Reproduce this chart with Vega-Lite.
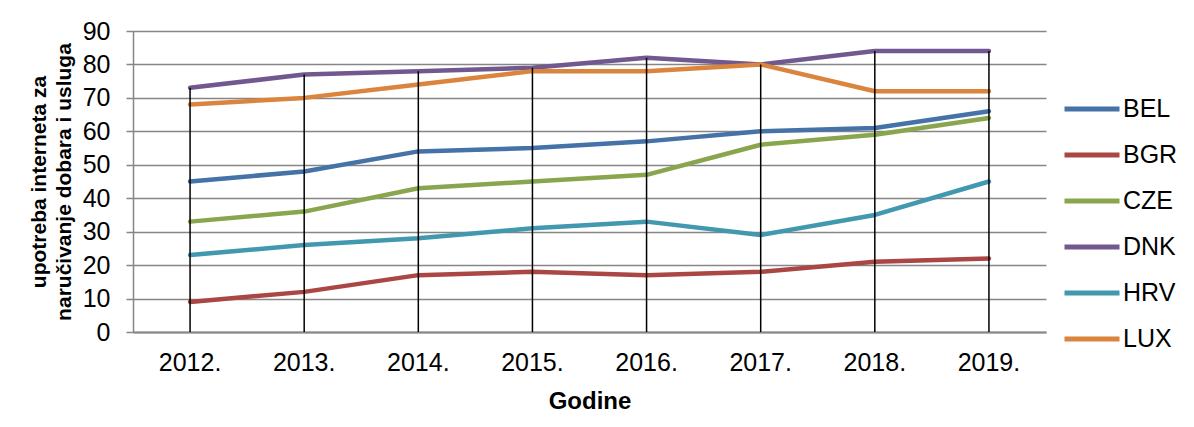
{
  "$schema": "https://vega.github.io/schema/vega-lite/v6.json",
  "width": 913,
  "height": 301,
  "autosize": {"type": "none"},
  "padding": {"left": 133, "top": 31, "right": 148, "bottom": 95},
  "background": "white",
  "config": {
    "font": "Liberation Sans",
    "view": {"stroke": null},
    "axis": {"labelColor": "black", "titleColor": "black", "domainColor": "#868686", "tickColor": "#868686", "gridColor": "#868686"}
  },
  "data": {"values": [
    {"country": "BEL", "year": "2012.", "value": 45}, {"country": "BEL", "year": "2013.", "value": 48}, {"country": "BEL", "year": "2014.", "value": 54}, {"country": "BEL", "year": "2015.", "value": 55}, {"country": "BEL", "year": "2016.", "value": 57}, {"country": "BEL", "year": "2017.", "value": 60}, {"country": "BEL", "year": "2018.", "value": 61}, {"country": "BEL", "year": "2019.", "value": 66},
    {"country": "BGR", "year": "2012.", "value": 9}, {"country": "BGR", "year": "2013.", "value": 12}, {"country": "BGR", "year": "2014.", "value": 17}, {"country": "BGR", "year": "2015.", "value": 18}, {"country": "BGR", "year": "2016.", "value": 17}, {"country": "BGR", "year": "2017.", "value": 18}, {"country": "BGR", "year": "2018.", "value": 21}, {"country": "BGR", "year": "2019.", "value": 22},
    {"country": "CZE", "year": "2012.", "value": 33}, {"country": "CZE", "year": "2013.", "value": 36}, {"country": "CZE", "year": "2014.", "value": 43}, {"country": "CZE", "year": "2015.", "value": 45}, {"country": "CZE", "year": "2016.", "value": 47}, {"country": "CZE", "year": "2017.", "value": 56}, {"country": "CZE", "year": "2018.", "value": 59}, {"country": "CZE", "year": "2019.", "value": 64},
    {"country": "DNK", "year": "2012.", "value": 73}, {"country": "DNK", "year": "2013.", "value": 77}, {"country": "DNK", "year": "2014.", "value": 78}, {"country": "DNK", "year": "2015.", "value": 79}, {"country": "DNK", "year": "2016.", "value": 82}, {"country": "DNK", "year": "2017.", "value": 80}, {"country": "DNK", "year": "2018.", "value": 84}, {"country": "DNK", "year": "2019.", "value": 84},
    {"country": "HRV", "year": "2012.", "value": 23}, {"country": "HRV", "year": "2013.", "value": 26}, {"country": "HRV", "year": "2014.", "value": 28}, {"country": "HRV", "year": "2015.", "value": 31}, {"country": "HRV", "year": "2016.", "value": 33}, {"country": "HRV", "year": "2017.", "value": 29}, {"country": "HRV", "year": "2018.", "value": 35}, {"country": "HRV", "year": "2019.", "value": 45},
    {"country": "LUX", "year": "2012.", "value": 68}, {"country": "LUX", "year": "2013.", "value": 70}, {"country": "LUX", "year": "2014.", "value": 74}, {"country": "LUX", "year": "2015.", "value": 78}, {"country": "LUX", "year": "2016.", "value": 78}, {"country": "LUX", "year": "2017.", "value": 80}, {"country": "LUX", "year": "2018.", "value": 72}, {"country": "LUX", "year": "2019.", "value": 72}
  ]},
  "encoding": {
    "x": {
      "field": "year", "type": "ordinal",
      "scale": {"type": "band", "paddingInner": 0, "paddingOuter": 0},
      "axis": {"title": "Godine", "labelAngle": 0, "labelFontSize": 25, "labelPadding": 18, "ticks": false, "domainWidth": 2, "titleFontSize": 24, "titleFontWeight": "bold", "titlePadding": 14}
    }
  },
  "layer": [
    {
      "mark": {"type": "line", "strokeWidth": 4.5, "strokeCap": "round", "strokeJoin": "round"},
      "encoding": {
        "y": {
          "field": "value", "type": "quantitative",
          "scale": {"domain": [0, 90], "nice": false},
          "axis": {"values": [0, 10, 20, 30, 40, 50, 60, 70, 80, 90], "labelOverlap": false, "title": ["upotreba interneta za", "naručivanje dobara i usluga"], "titleFontSize": 21, "titleFontWeight": "bold", "titleLineHeight": 25, "titlePadding": 8, "labelFontSize": 25, "tickSize": 7, "labelPadding": 16, "gridWidth": 1.5, "domainWidth": 1.5, "tickWidth": 1.5}
        },
        "color": {
          "field": "country", "type": "nominal",
          "scale": {"domain": ["BEL", "BGR", "CZE", "DNK", "HRV", "LUX"], "range": ["#4572A7", "#AA4643", "#89A54E", "#71588F", "#4198AF", "#DB843D"]},
          "legend": {"title": null, "orient": "none", "legendX": 929, "legendY": 48, "symbolType": "stroke", "symbolSize": 3025, "symbolStrokeWidth": 5, "labelFontSize": 25, "labelColor": "black", "labelOffset": 1, "rowPadding": 3, "padding": 0}
        }
      }
    },
    {
      "transform": [{"aggregate": [{"op": "max", "field": "value", "as": "maxv"}], "groupby": ["year"]}],
      "mark": {"type": "rule", "color": "black", "strokeWidth": 1.5},
      "encoding": {
        "y": {
          "field": "maxv", "type": "quantitative",
          "axis": {"values": [0, 10, 20, 30, 40, 50, 60, 70, 80, 90], "labelOverlap": false, "title": ["upotreba interneta za", "naručivanje dobara i usluga"], "titleFontSize": 21, "titleFontWeight": "bold", "titleLineHeight": 25, "titlePadding": 8, "labelFontSize": 25, "tickSize": 7, "labelPadding": 16, "gridWidth": 1.5, "domainWidth": 1.5, "tickWidth": 1.5}
        },
        "y2": {"datum": 0}
      }
    }
  ]
}
